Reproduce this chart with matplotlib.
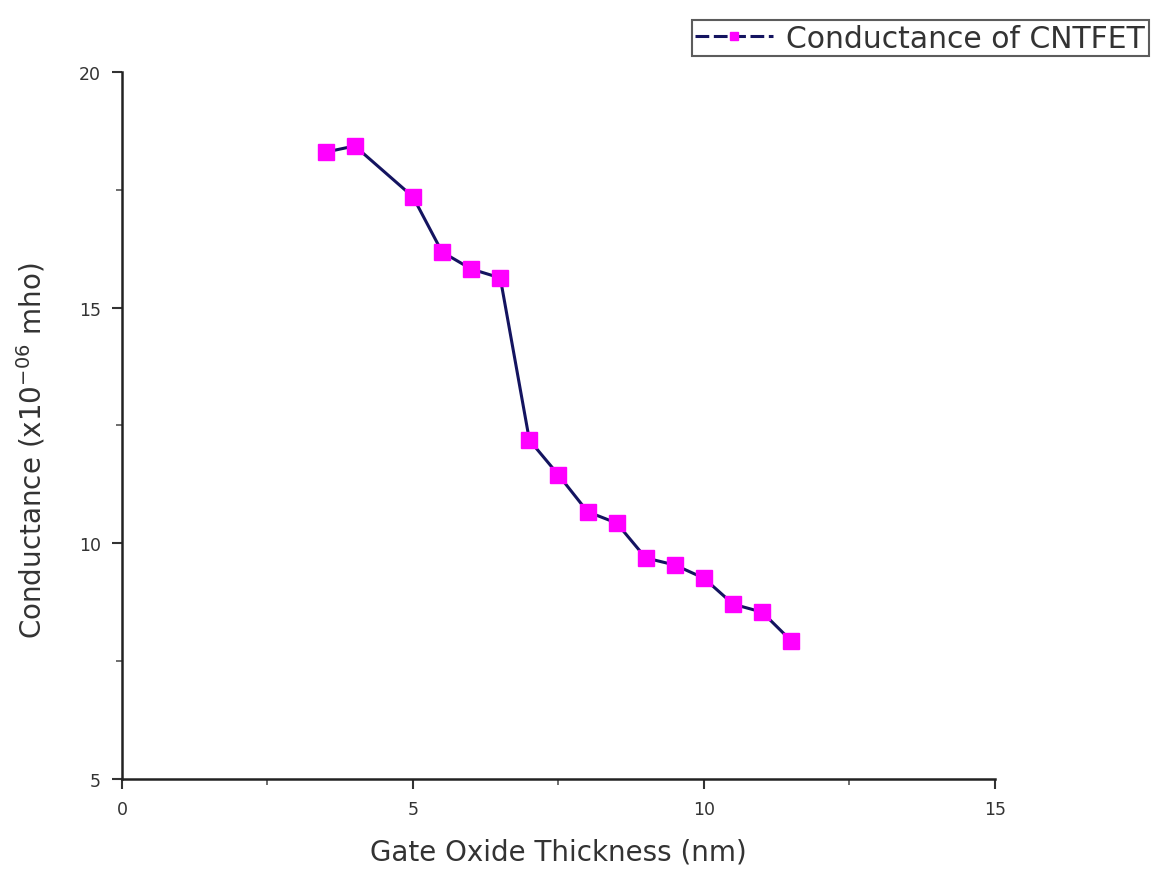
import matplotlib
matplotlib.use("Agg")
import matplotlib.pyplot as plt
from matplotlib.ticker import MultipleLocator
from matplotlib.lines import Line2D

plt.rcParams['font.family'] = ['DejaVu Sans']

thickness = [3.5, 4, 5, 5.5, 6, 6.5, 7, 7.5, 8, 8.5, 9, 9.5, 10, 10.5, 11, 11.5]
conductance = [18.30, 18.43, 17.35, 16.18, 15.82, 15.63, 12.19, 11.45, 10.67, 10.43,
               9.69, 9.54, 9.26, 8.71, 8.54, 7.93]
series_label = "Conductance of CNTFET"
x_ticks = [0, 5, 10, 15]
y_ticks = [5, 10, 15, 20]

line_color = '#141460'
marker_color = '#ff00ff'

fig = plt.figure(figsize=(11.52, 8.79), dpi=100)
ax = fig.add_axes([0.1059, 0.1126, 0.7578, 0.8044])

ax.plot(thickness, conductance, color=line_color, lw=2.2, marker='s', ms=11,
        mfc=marker_color, mec=marker_color)

ax.set_xlim(0, 15)
ax.set_ylim(5, 20)
ax.set_xticks(x_ticks)
ax.set_yticks(y_ticks)
ax.xaxis.set_minor_locator(MultipleLocator(2.5))
ax.yaxis.set_minor_locator(MultipleLocator(2.5))
for s in ['top', 'right']:
    ax.spines[s].set_visible(False)
for s in ['left', 'bottom']:
    ax.spines[s].set_linewidth(1.8)
    ax.spines[s].set_color('#222222')
ax.tick_params(which='major', direction='out', length=7, width=1.5, labelsize=12.5,
               colors='#333333', pad=8)
ax.tick_params(which='minor', direction='out', length=4, width=1.2, colors='#555555')

ax.set_xlabel("Gate Oxide Thickness (nm)", fontsize=20, color='#333333', labelpad=14)
ax.set_ylabel("Conductance (x10$^{-06}$ mho)", fontsize=20, color='#333333')
ax.yaxis.set_label_coords(-0.085, 0.465)

handle = Line2D([], [], color=line_color, lw=2.2, ls=(0, (4.5, 1.5)), marker='s', ms=6,
                mfc=marker_color, mec=marker_color)
leg = fig.legend([handle], [series_label], loc='upper right',
                 bbox_to_anchor=(0.997, 0.976), fontsize=21.5,
                 frameon=True, fancybox=False, edgecolor='#333333', handlelength=2.6,
                 borderpad=0.12, handletextpad=0.45, borderaxespad=0)
leg.get_frame().set_linewidth(1.5)
for t in leg.get_texts():
    t.set_color('#333333')

fig.savefig("out.png", dpi=100)
